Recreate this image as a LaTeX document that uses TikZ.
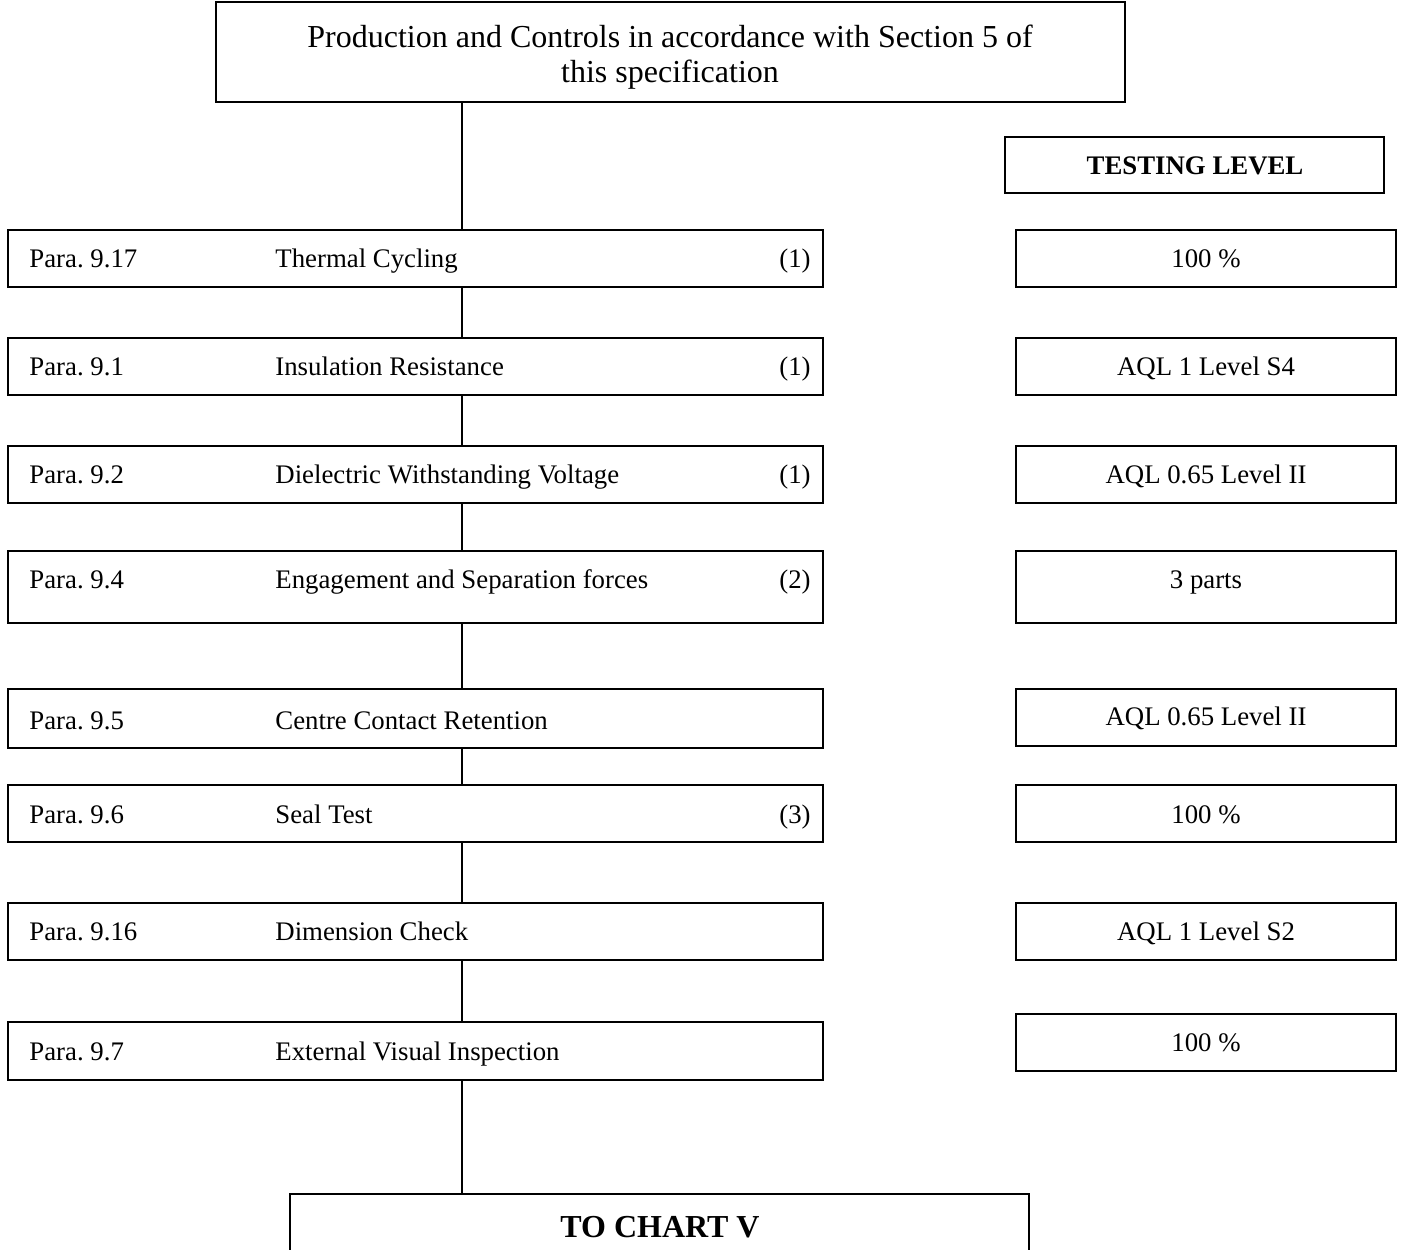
\documentclass[tikz,border=0pt]{standalone}
\usepackage{fontspec}
\setmainfont{Liberation Serif}
\usetikzlibrary{fit}
\frenchspacing
\begin{document}
\begin{tikzpicture}[x=0.5pt,y=-0.5pt,
  box/.style={draw, line width=1pt, rectangle, inner sep=0pt},
  rowtxt/.style={anchor=base west, inner sep=0pt, font=\fontsize{13.4}{15}\selectfont},
  lvltxt/.style={anchor=base, inner sep=0pt, font=\fontsize{13.4}{15}\selectfont},
  link/.style={line width=1pt}]
\clip (0,0) rectangle (1401,1249);
\coordinate (spine) at (462,0);

% heading box
\node[box, fit={(216,2)(1125,102)}] (top) {};
\node[align=center, inner sep=0pt, font=\fontsize{16}{17.5}\selectfont] (toptxt) at (670,57)
  {Production and Controls in accordance with Section 5 of\\ this specification};

% testing level heading
\node[box, fit={(1005,137)(1384,193)}] (lvlhead) {};
\node[lvltxt, font=\fontsize{13.4}{15}\selectfont\bfseries] (lvlheadtxt) at (1195,174) {TESTING LEVEL};

% test steps: box, para, name, note
\node[box, fit={(8,230)(823,287)}] (s1) {};
\node[rowtxt] (s1p) at (29,267) {Para. 9.17};
\node[rowtxt] (s1n) at (275,267) {Thermal Cycling};
\node[rowtxt] (s1r) at (779,267) {(1)};

\node[box, fit={(8,338)(823,395)}] (s2) {};
\node[rowtxt] (s2p) at (29,375) {Para. 9.1};
\node[rowtxt] (s2n) at (275,375) {Insulation Resistance};
\node[rowtxt] (s2r) at (779,375) {(1)};

\node[box, fit={(8,446)(823,503)}] (s3) {};
\node[rowtxt] (s3p) at (29,483) {Para. 9.2};
\node[rowtxt] (s3n) at (275,483) {Dielectric Withstanding Voltage};
\node[rowtxt] (s3r) at (779,483) {(1)};

\node[box, fit={(8,551)(823,623)}] (s4) {};
\node[rowtxt] (s4p) at (29,588) {Para. 9.4};
\node[rowtxt] (s4n) at (275,588) {Engagement and Separation forces};
\node[rowtxt] (s4r) at (779,588) {(2)};

\node[box, fit={(8,689)(823,748)}] (s5) {};
\node[rowtxt] (s5p) at (29,729) {Para. 9.5};
\node[rowtxt] (s5n) at (275,729) {Centre Contact Retention};

\node[box, fit={(8,785)(823,842)}] (s6) {};
\node[rowtxt] (s6p) at (29,823) {Para. 9.6};
\node[rowtxt] (s6n) at (275,823) {Seal Test};
\node[rowtxt] (s6r) at (779,823) {(3)};

\node[box, fit={(8,903)(823,960)}] (s7) {};
\node[rowtxt] (s7p) at (29,940) {Para. 9.16};
\node[rowtxt] (s7n) at (275,940) {Dimension Check};

\node[box, fit={(8,1022)(823,1080)}] (s8) {};
\node[rowtxt] (s8p) at (29,1060) {Para. 9.7};
\node[rowtxt] (s8n) at (275,1060) {External Visual Inspection};

% testing levels
\node[box, fit={(1016,230)(1396,287)}] (l1) {};
\node[lvltxt] (l1t) at (1206,267) {100 \%};
\node[box, fit={(1016,338)(1396,395)}] (l2) {};
\node[lvltxt] (l2t) at (1206,375) {AQL 1 Level S4};
\node[box, fit={(1016,446)(1396,503)}] (l3) {};
\node[lvltxt] (l3t) at (1206,483) {AQL 0.65 Level II};
\node[box, fit={(1016,551)(1396,623)}] (l4) {};
\node[lvltxt] (l4t) at (1206,588) {3 parts};
\node[box, fit={(1016,689)(1396,746)}] (l5) {};
\node[lvltxt] (l5t) at (1206,725) {AQL 0.65 Level II};
\node[box, fit={(1016,785)(1396,842)}] (l6) {};
\node[lvltxt] (l6t) at (1206,823) {100 \%};
\node[box, fit={(1016,903)(1396,960)}] (l7) {};
\node[lvltxt] (l7t) at (1206,940) {AQL 1 Level S2};
\node[box, fit={(1016,1014)(1396,1071)}] (l8) {};
\node[lvltxt] (l8t) at (1206,1051) {100 \%};

% continuation box
\node[box, fit={(290,1194)(1029,1275)}] (next) {};
\node[inner sep=0pt, anchor=base, font=\fontsize{16}{18}\selectfont\bfseries] (nexttxt) at (660,1237) {TO CHART V};

% vertical connectors
\draw[link] (top.south -| spine) -- (s1.north -| spine);
\draw[link] (s1.south -| spine) -- (s2.north -| spine);
\draw[link] (s2.south -| spine) -- (s3.north -| spine);
\draw[link] (s3.south -| spine) -- (s4.north -| spine);
\draw[link] (s4.south -| spine) -- (s5.north -| spine);
\draw[link] (s5.south -| spine) -- (s6.north -| spine);
\draw[link] (s6.south -| spine) -- (s7.north -| spine);
\draw[link] (s7.south -| spine) -- (s8.north -| spine);
\draw[link] (s8.south -| spine) -- (next.north -| spine);
\end{tikzpicture}
\end{document}
